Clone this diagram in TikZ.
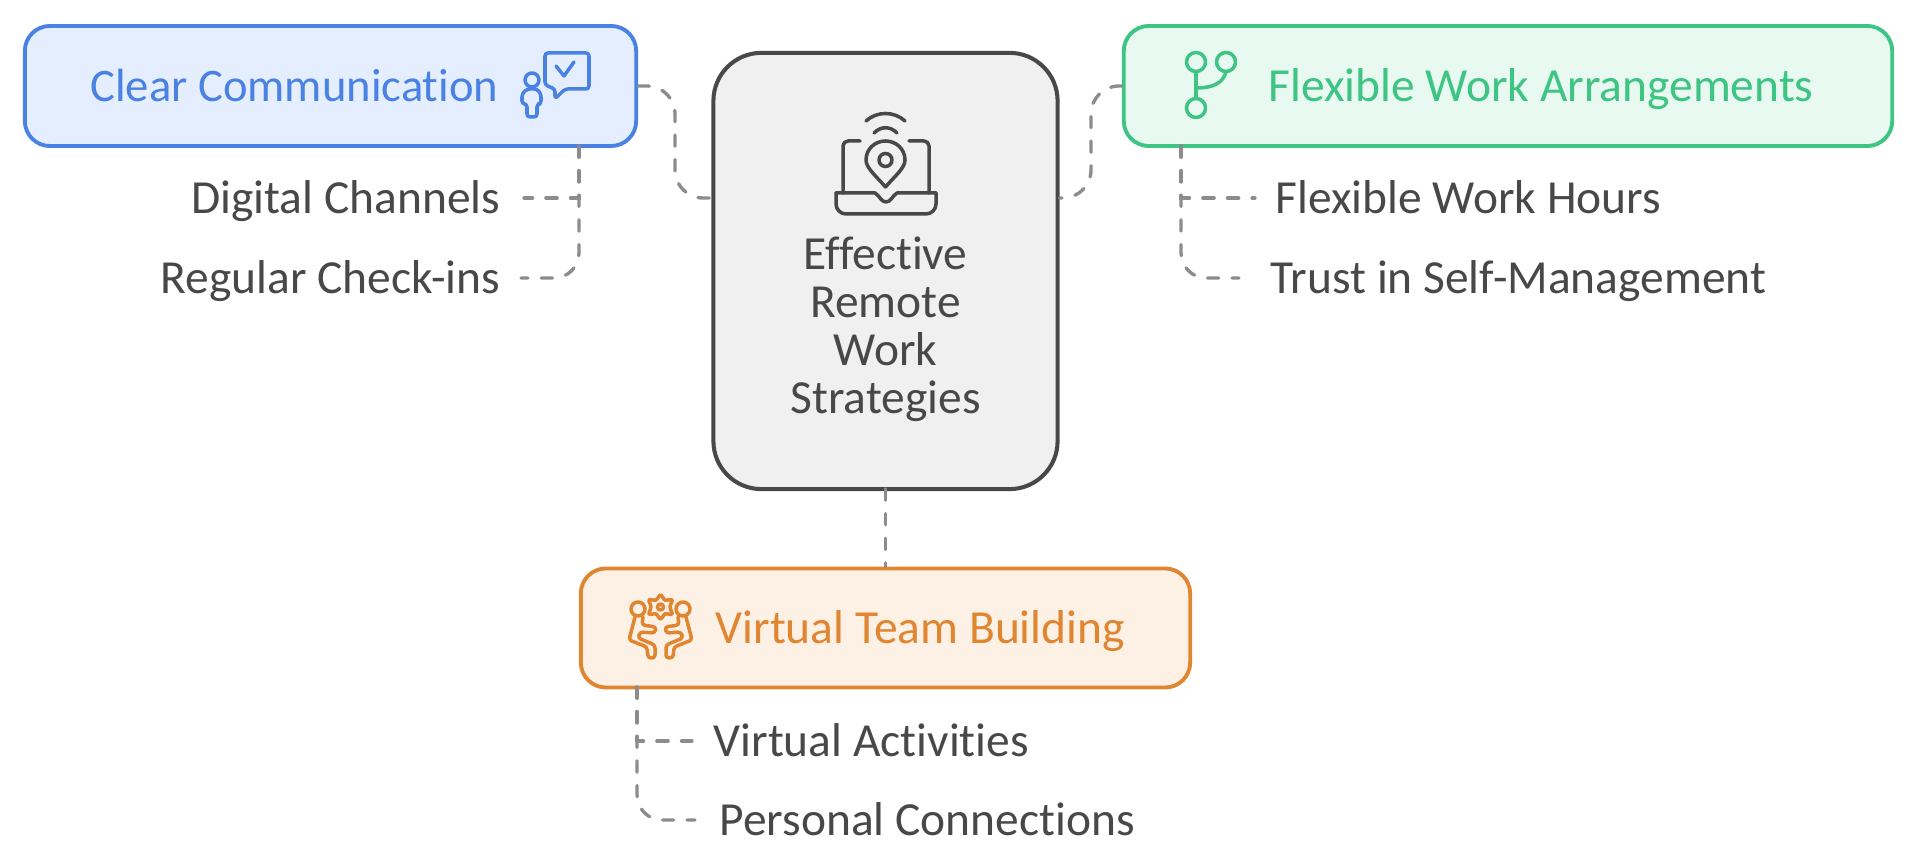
\documentclass[tikz,border=0pt]{standalone}
\usepackage{fontspec}
\setmainfont[RawFeature=-liga]{Carlito}
\usepackage{tikz}
\usetikzlibrary{calc}
\usetikzlibrary{positioning}
\definecolor{blueline}{HTML}{4A82E4}
\definecolor{bluefill}{HTML}{E5EEFE}
\definecolor{greenline}{HTML}{3EC483}
\definecolor{greenfill}{HTML}{E8F9F1}
\definecolor{orangeline}{HTML}{E08530}
\definecolor{orangefill}{HTML}{FDF1E6}
\definecolor{darkline}{HTML}{484848}
\definecolor{darkfill}{HTML}{F0F0F0}
\definecolor{linkgray}{HTML}{8C8C8C}
\tikzset{card/.style={rectangle,line width=1.1pt,rounded corners=0.25cm,inner sep=0pt}}
\tikzset{leaf/.style={font=\fontsize{13.5}{15}\selectfont,text=darkline,inner sep=0pt,text height=0.95em,text depth=0.09em}}
\tikzset{head/.style={leaf}}
\tikzset{link/.style={draw=linkgray,line width=0.95pt,line cap=round,dash pattern=on 3.2pt off 3.8pt}}
\tikzset{glyph/.style={line width=1pt,line cap=round,line join=round}}

\begin{document}
\begin{tikzpicture}[x=0.01cm,y=-0.01cm]
    \useasboundingbox (0,0) rectangle (1918,868);
    % boxes
    \node[card, draw=blueline, fill=bluefill, minimum width=6.11cm, minimum height=1.2cm] (clear) at (330.5,86) {};
    \node[card, draw=greenline, fill=greenfill, minimum width=7.68cm, minimum height=1.2cm] (flexible) at (1508,86) {};
    \node[card, draw=orangeline, fill=orangefill, minimum width=6.09cm, minimum height=1.19cm] (virtual) at (885.5,628) {};
    \node[card, rounded corners=0.48cm, line width=1.15pt, draw=darkline, fill=darkfill, minimum width=3.44cm, minimum height=4.36cm] (effective) at (885.5,271) {};
    % titles
    \node[head, font=\fontsize{13.25}{15}\selectfont, text=blueline, anchor=east] (clearT) at (499,86) {Clear Communication};
    \node[head, text=greenline, anchor=west] (flexibleT) at (1268,86) {Flexible Work Arrangements};
    \node[head, text=orangeline, anchor=west] (virtualT) at (715,628) {Virtual Team Building};
    \node[font=\fontsize{13.5}{13.66}\selectfont, text=darkline, align=center, inner sep=0pt] (effectiveT) at (885.5,329) {Effective\\Remote\\Work\\Strategies};
    % leaves
    \node[leaf, anchor=east] (digital) at (501,198) {Digital Channels};
    \node[leaf, anchor=east] (regular) at (501,278) {Regular Check-ins};
    \node[leaf, anchor=west] (hours) at (1275,198) {Flexible Work Hours};
    \node[leaf, anchor=west] (trust) at (1270,278) {Trust in Self-Management};
    \node[leaf, anchor=west] (activities) at (713,741) {Virtual Activities};
    \node[leaf, anchor=west] (connections) at (719,820) {Personal Connections};
    % stems
    \coordinate (clearS) at (579,146);
    \coordinate (flexibleS) at (1181,146);
    \coordinate (virtualS) at (637,687);
    \coordinate (clearB) at (675,86);
    \coordinate (flexibleB) at (1091,86);
    % connectors
    \draw[link, rounded corners=0.28cm] (clear.east) -- (clearB) |- (effective.west |- digital);
    \draw[link, rounded corners=0.28cm] (flexible.west) -- (flexibleB) |- (effective.east |- hours);
    \draw[link] (effective) ++(0,218) -- (virtual.north);
    \draw[link, shorten >=0.23cm] (clearS) |- (digital.east);
    \draw[link, rounded corners=0.25cm, shorten >=0.2cm] (clearS) |- (regular.east);
    \draw[link, shorten >=0.2cm] (flexibleS) |- (hours.west);
    \draw[link, rounded corners=0.25cm, shorten >=0.31cm] (flexibleS) |- (trust.west);
    \draw[link, shorten >=0.21cm] (virtualS) |- (activities.west);
    \draw[link, rounded corners=0.25cm, shorten >=0.24cm] (virtualS) |- (connections.west);
    % chat icon
    \begin{scope}[glyph, draw=blueline]
    \draw (532,80) circle (7);
    \draw[rounded corners=0.03cm] (522,104) -- (522,94) -- (527,89) -- (537,89) -- (541,94) -- (541,104) -- (537,104) -- (537,117) -- (527,117) -- (527,104) -- cycle;
    \draw[rounded corners=0.03cm] (545,53) -- (589,53) -- (589,89) -- (565,89) -- (555,99) -- (555,89) -- (545,85) -- cycle;
    \draw (556,66) -- (564,76) -- (574,62);
    \end{scope}
    % branch icon
    \begin{scope}[glyph, draw=greenline]
    \draw (1196,62) circle (9.5);
    \draw (1226,62) circle (9.5);
    \draw (1196,108) circle (9.5);
    \draw (1196,72) -- (1196,98);
    \draw (1226,72) .. controls (1223,82) and (1215,88) .. (1196,88);
    \end{scope}
    % team icon
    \begin{scope}[glyph, draw=orangeline]
    \draw (638,609) circle (7);
    \draw (683,609) circle (7);
    \draw (660.5,607) circle (3);
    \draw plot[smooth cycle, tension=0.5] coordinates {(660.5,595) (665,600) (672,600) (670,607) (672,614) (665,614) (660.5,619) (656,614) (649,614) (651,607) (649,600) (656,600)};
    \draw[rounded corners=0.03cm] (635,617) -- (629,640) -- (647,647) -- (648,658) -- (655,658) -- (655,645) -- (638,638) -- (640,632) -- (655,633) -- (656,627) -- (642,625) -- (643,617);
    \draw[rounded corners=0.03cm] (686,617) -- (692,640) -- (674,647) -- (673,658) -- (666,658) -- (666,645) -- (683,638) -- (681,632) -- (666,633) -- (665,627) -- (679,625) -- (678,617);
    \end{scope}
    % laptop icon
    \begin{scope}[glyph, draw=darkline]
    \draw[rounded corners=0.05cm] (860,141) -- (843,141) -- (843,193);
    \draw[rounded corners=0.05cm] (909,141) -- (929,141) -- (929,193);
    \draw[rounded corners=0.1cm] (836,193) -- (836,214) -- (936,214) -- (936,193);
    \draw (836,193) -- (875,193) .. controls (880,196) and (881,202) .. (886,202) .. controls (891,202) and (892,196) .. (897,193) -- (936,193);
    \draw (885.5,187) .. controls (876,176) and (866,168) .. (866,160) .. controls (866,149) and (875,141) .. (885.5,141) .. controls (896,141) and (905,149) .. (905,160) .. controls (905,168) and (895,176) .. (885.5,187) -- cycle;
    \draw (885.5,160) circle (6.5);
    \draw (866,121) .. controls (877,111) and (894,111) .. (905,121);
    \draw (874,133) .. controls (881,126) and (890,126) .. (897,133);
    \end{scope}
\end{tikzpicture}
\end{document}
